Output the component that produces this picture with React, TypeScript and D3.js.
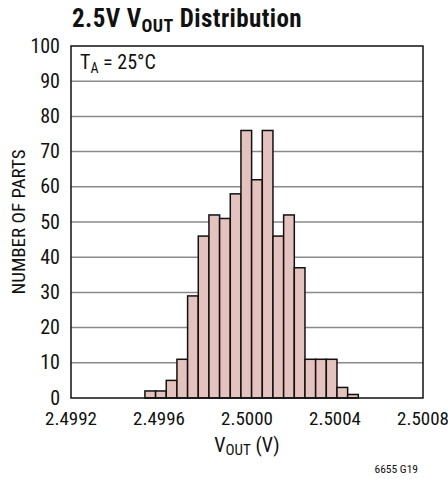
import React from "react";
import * as d3 from "d3";

const counts = [2, 2, 5, 11, 29, 46, 52, 51, 58, 76, 62, 76, 46, 52, 37, 11, 11, 11, 3, 1];
const binStart = 2.499536;
const binWidth = 0.0000485;
const xTicks = [2.4992, 2.4996, 2.5, 2.5004, 2.5008];
const yTicks = [0, 10, 20, 30, 40, 50, 60, 70, 80, 90, 100];

const W = 448;
const H = 479;
const L = 71, R = 423, T = 46, B = 398;
const FONT = "'Liberation Sans Narrow', 'Arial Narrow', 'Roboto Condensed', sans-serif";

export default function App() {
  const x = d3.scaleLinear().domain([2.4992, 2.5008]).range([L, R]);
  const y = d3.scaleLinear().domain([0, 100]).range([B, T]);
  const bins = counts.map((c, i) => ({ x0: binStart + i * binWidth, x1: binStart + (i + 1) * binWidth, c }));
  return (
    <svg width={W} height={H} style={{ position: "absolute", left: 0, top: 0, background: "#fff" }} fontFamily={FONT}>
      <rect x={0} y={0} width={W} height={H} fill="#fff" />
      <text x={72} y={27} fontSize={25} fontWeight="bold" fill="#111" letterSpacing={0.4}>
        2.5V V<tspan fontSize={18} dy={5}>OUT</tspan>
        <tspan dy={-5}> Distribution</tspan>
      </text>
      {yTicks.filter((t) => t > 0 && t < 100).map((t) => (
        <line key={t} x1={L} x2={R} y1={y(t)} y2={y(t)} stroke="#8a8a8a" strokeWidth={1.5} />
      ))}
      {bins.map((b, i) => (
        <rect
          key={i}
          x={x(b.x0)}
          y={y(b.c)}
          width={x(b.x1) - x(b.x0)}
          height={y(0) - y(b.c)}
          fill="#e4c2bd"
          stroke="#111"
          strokeWidth={1.5}
        />
      ))}
      <rect x={L} y={T} width={R - L} height={B - T} fill="none" stroke="#111" strokeWidth={1.5} />
      {yTicks.map((t) => (
        <text key={t} x={60} y={y(t) + 6.5} fontSize={20} textAnchor="end" fill="#111">
          {t}
        </text>
      ))}
      {xTicks.map((t) => (
        <text key={t} x={x(t)} y={425} fontSize={19} textAnchor="middle" fill="#111">
          {t.toFixed(4)}
        </text>
      ))}
      <text x={x(2.5)} y={452} fontSize={20} textAnchor="middle" fill="#111">
        V<tspan fontSize={15} dy={3}>OUT</tspan>
        <tspan dy={-3}> (V)</tspan>
      </text>
      <text transform={`translate(25,${(T + B) / 2}) rotate(-90)`} fontSize={19} textAnchor="middle" fill="#111">
        NUMBER OF PARTS
      </text>
      <text x={80} y={69} fontSize={20} fill="#111">
        T<tspan fontSize={14} dy={4}>A</tspan>
        <tspan dy={-4}> = 25°C</tspan>
      </text>
      <text x={418} y={473} fontSize={11.5} textAnchor="end" fill="#111">
        6655 G19
      </text>
    </svg>
  );
}
